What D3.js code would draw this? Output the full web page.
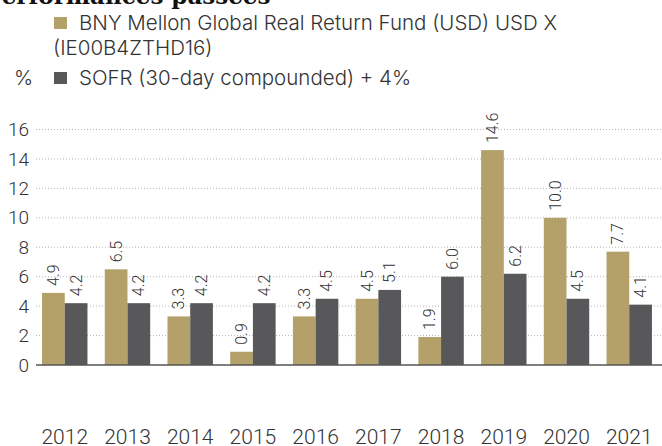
<!DOCTYPE html>
<html>
<head>
<meta charset="utf-8">
<script src="https://cdnjs.cloudflare.com/ajax/libs/d3/7.8.5/d3.min.js"></script>
<style>
  body { margin: 0; background: #fff; }
  text { font-family: Roboto, 'Noto Sans', sans-serif; }
</style>
</head>
<body>
<script>
var years = ['2012', '2013', '2014', '2015', '2016', '2017', '2018', '2019', '2020', '2021']
var fund = [4.9, 6.5, 3.3, 0.9, 3.3, 4.5, 1.9, 14.6, 10.0, 7.7]
var sofr = [4.2, 4.2, 4.2, 4.2, 4.5, 5.1, 6.0, 6.2, 4.5, 4.1]
var yTicks = [0, 2, 4, 6, 8, 10, 12, 14, 16]
var seriesNames = ['BNY Mellon Global Real Return Fund (USD) USD X', '(IE00B4ZTHD16)', 'SOFR (30-day compounded) + 4%']

var width = 662
var height = 446
var gold = '#b3a169'
var grey = '#58585a'

var svg = d3.select('body')
    .append('svg')
    .attr('width', width)
    .attr('height', height)

// cut-off title at the top
svg.append('text')
    .text('Performances passées')
    .attr('x', -15)
    .attr('y', 4)
    .style('font-family', "'DejaVu Serif', serif")
    .style('font-weight', 'bold')
    .style('font-size', '23px')
    .style('fill', '#111')

var xScale = d3.scaleBand()
    .domain(years)
    .range([33.4, 660.6])
    .paddingInner(0.276)
    .paddingOuter(0.138)

var xSub = d3.scaleBand()
    .domain(['fund', 'sofr'])
    .range([0, xScale.bandwidth()])

var yScale = d3.scaleLinear()
    .domain([0, 16])
    .range([365, 129.5])

// gridlines
svg.append('g')
    .selectAll('line')
    .data(yTicks.filter(d => d > 0))
    .enter()
    .append('line')
    .attr('x1', 36)
    .attr('x2', width)
    .attr('y1', d => yScale(d))
    .attr('y2', d => yScale(d))
    .style('stroke', '#b5b5b5')
    .style('stroke-width', 1)
    .style('stroke-dasharray', '1,2')

// y labels
var yAxis = svg.append('g')
    .attr('transform', 'translate(29,0)')
    .call(d3.axisLeft(yScale).tickValues(yTicks).tickSize(0).tickPadding(0))
yAxis.select('.domain').remove()
yAxis.selectAll('text')
    .style('font-size', '19px')
    .style('font-weight', 300)
    .style('fill', '#333')

var rows = years.map((y, i) => ({year: y, fund: fund[i], sofr: sofr[i]}))

var groups = svg.append('g')
    .selectAll('g')
    .data(rows)
    .enter()
    .append('g')
    .attr('transform', d => 'translate(' + xScale(d.year) + ',0)')

groups.selectAll('rect')
    .data(d => [{k: 'fund', v: d.fund}, {k: 'sofr', v: d.sofr}])
    .enter()
    .append('rect')
    .attr('x', d => xSub(d.k))
    .attr('width', xSub.bandwidth())
    .attr('y', d => yScale(d.v))
    .attr('height', d => yScale(0) - yScale(d.v))
    .style('fill', d => d.k == 'fund' ? gold : grey)

// value labels, rotated
groups.selectAll('text')
    .data(d => [{k: 'fund', v: d.fund}, {k: 'sofr', v: d.sofr}])
    .enter()
    .append('text')
    .text(d => d3.format('.1f')(d.v))
    .attr('transform', d => 'translate(' + (xSub(d.k) + xSub.bandwidth() / 2) + ',' + (yScale(d.v) - 7) + ') rotate(-90)')
    .attr('dominant-baseline', 'central')
    .style('font-size', '16px')
    .style('font-weight', 300)
    .style('fill', '#333')

// x axis line
svg.append('line')
    .attr('x1', 36)
    .attr('x2', width)
    .attr('y1', yScale(0))
    .attr('y2', yScale(0))
    .style('stroke', '#555')
    .style('stroke-width', 1.5)

// year labels
var xAxis = svg.append('g')
    .attr('transform', 'translate(0,444)')
    .call(d3.axisBottom(xScale).tickSize(0).tickPadding(0))
xAxis.select('.domain').remove()
xAxis.selectAll('text')
    .attr('dy', 0)
    .style('font-size', '21px')
    .style('font-weight', 300)
    .style('fill', '#333')

// legend
var legend = svg.append('g')

legend.append('rect')
    .attr('x', 54).attr('y', 17)
    .attr('width', 13).attr('height', 12)
    .style('fill', gold)

legend.append('rect')
    .attr('x', 54).attr('y', 72)
    .attr('width', 13).attr('height', 12)
    .style('fill', grey)

legend.append('text')
    .text(seriesNames[0])
    .attr('x', 79).attr('y', 30)
legend.append('text')
    .text(seriesNames[1])
    .attr('x', 53).attr('y', 55)
legend.append('text')
    .text(seriesNames[2])
    .attr('x', 79).attr('y', 85)
legend.append('text')
    .text('%')
    .attr('x', 14).attr('y', 85)

legend.selectAll('text')
    .style('font-family', 'Inter, Roboto, sans-serif')
    .style('font-weight', 300)
    .style('font-size', '20.5px')
    .style('fill', '#333')
</script>
</body>
</html>
